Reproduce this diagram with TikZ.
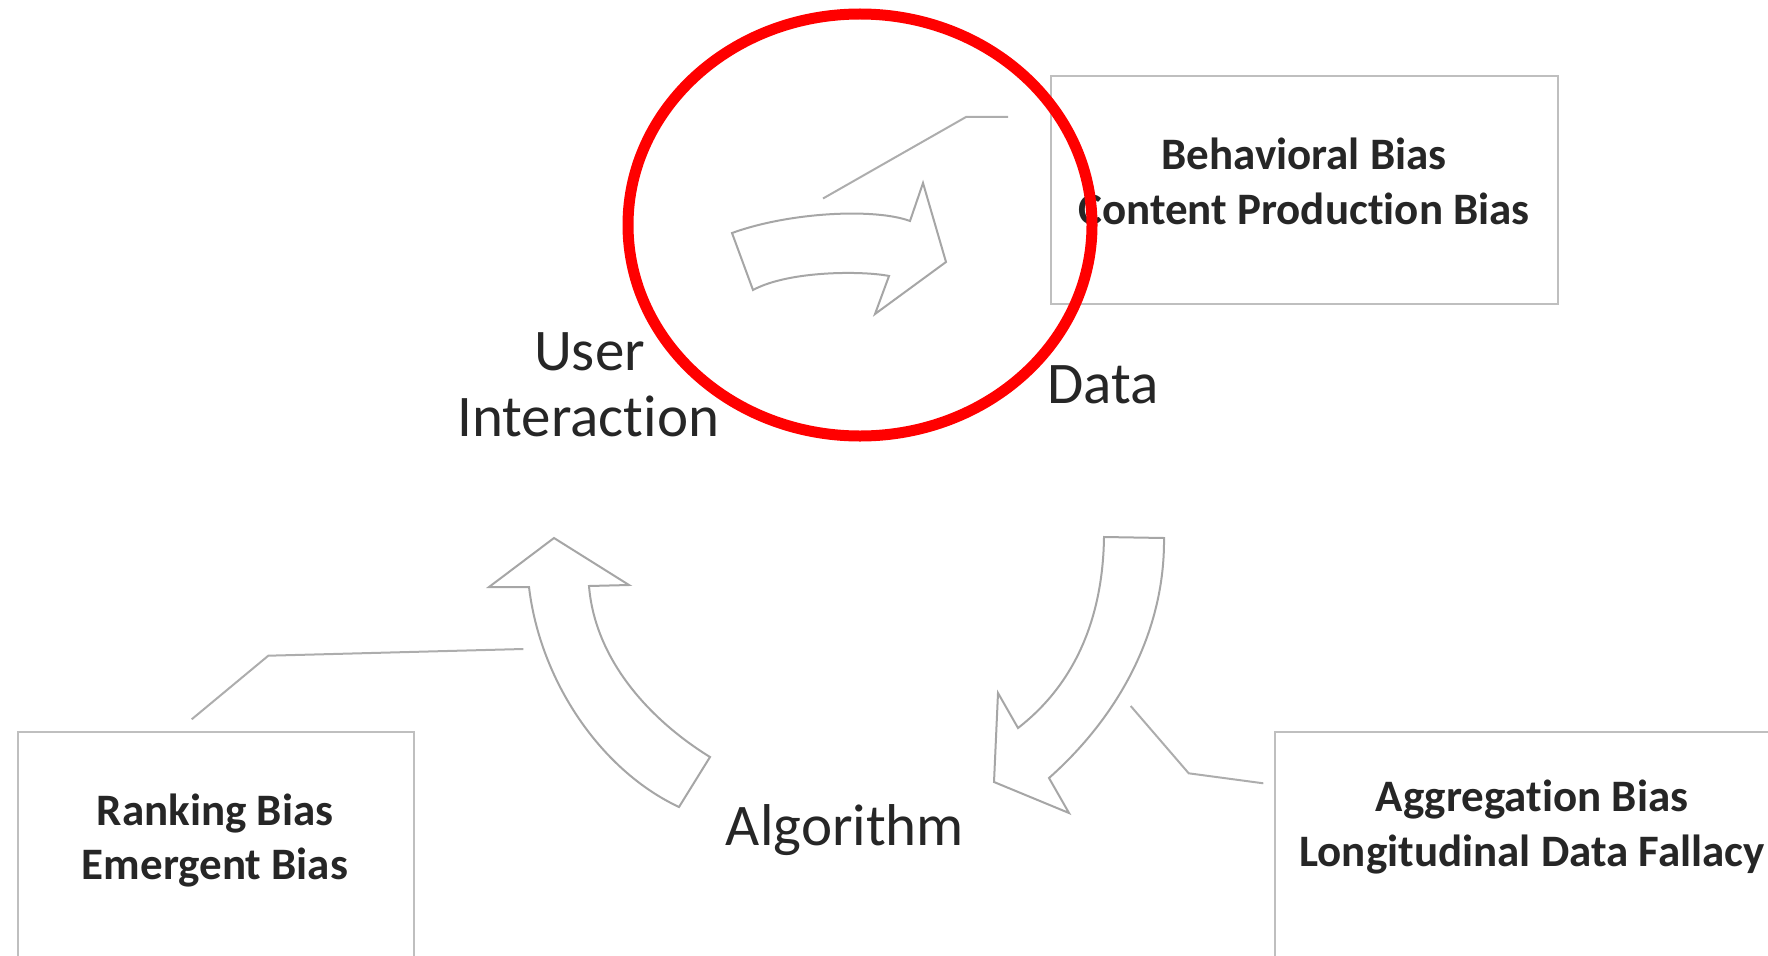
\documentclass[tikz,border=0pt]{standalone}
\usepackage{fontspec}
\setmainfont{Carlito}[Ligatures={NoCommon,NoContextual}]
\definecolor{ink}{HTML}{262626}
\definecolor{boxgray}{HTML}{BFBFBF}
\definecolor{linegray}{HTML}{ADADAD}
\definecolor{arrowgray}{HTML}{A6A6A6}
\begin{document}
\begin{tikzpicture}[x=1pt,y=-1pt,
  biasbox/.style={draw=boxgray, line width=2pt, anchor=north west, inner sep=0pt},
  lead/.style={draw=linegray, line width=2pt},
  blockarrow/.style={draw=arrowgray, line width=2pt, fill=white, line join=miter},
  biglabel/.style={text=ink, font=\fontsize{59}{66}\selectfont, inner sep=0pt},
  biaslabel/.style={text=ink, font=\bfseries\fontsize{45}{54}\selectfont, anchor=base, inner sep=0pt},
  ring/.style={draw=red, line width=11pt}]
\useasboundingbox (0,0) rectangle (1768,955);
\clip (0,0) rectangle (1768,955);

% boxes listing the biases of each stage
\node[biasbox, minimum width=507pt, minimum height=227pt] (databox) at (1050,75.5) {};
\node[biasbox, minimum width=396pt, minimum height=300pt] (algobox) at (16.7,730.7) {};
\node[biasbox, minimum width=560pt, minimum height=300pt] (userbox) at (1274,730.7) {};

% leader lines
\coordinate (ta) at (823,198.5);
\coordinate (tb) at (966,117);
\coordinate (tc) at (1008,117);
\draw[lead] (ta) -- (tb) -- (tc);
\coordinate (ra) at (1130.7,706);
\coordinate (rb) at (1188.7,773.3);
\coordinate (rc) at (1263.3,783.3);
\draw[lead] (ra) -- (rb) -- (rc);
\coordinate (la) at (523.3,649);
\coordinate (lb) at (268.3,655.7);
\coordinate (lc) at (191.7,719.3);
\draw[lead] (la) -- (lb) -- (lc);

% curved block arrows of the cycle
\draw[blockarrow] (732,233) .. controls (790,212) and (875,208) .. (910,221)
  -- (923,183) -- (946,262) -- (875,314) -- (889,276)
  .. controls (865,271) and (790,270) .. (753,290) -- cycle;
\draw[blockarrow] (1104,537) -- (1164,538)
  .. controls (1165,630) and (1120,715) .. (1049,778)
  -- (1069,813) -- (994,782) -- (998,693) -- (1018,728)
  .. controls (1080,680) and (1103,610) .. cycle;
\draw[blockarrow] (554,538) -- (629,585) -- (589,586)
  .. controls (595,660) and (650,720) .. (710,757)
  -- (679,807)
  .. controls (600,770) and (540,680) .. (529,587)
  -- (489,587) -- cycle;

% stage labels
\node[biglabel, anchor=base] (user) at (589.5,370) {User};
\node[biglabel, anchor=base] (interaction) at (588.3,436) {Interaction};
\node[biglabel, anchor=base west] (data) at (1047,403.3) {Data};
\node[biglabel, anchor=base] (algorithm) at (845,845) {Algorithm};

% bias labels
\node[biaslabel] (behav) at (1304,169.3) {Behavioral Bias};
\node[biaslabel] (content) at (1304,224.3) {Content Production Bias};
\node[biaslabel] (ranking) at (215,825) {Ranking Bias};
\node[biaslabel] (emergent) at (215,879.3) {Emergent Bias};
\node[biaslabel] (aggregation) at (1532,811.7) {Aggregation Bias};
\node[biaslabel] (longitudinal) at (1532,866.7) {Longitudinal Data Fallacy};

% highlight ring
\draw[ring] (860,225) ellipse [x radius=232pt, y radius=211pt];
\end{tikzpicture}
\end{document}
